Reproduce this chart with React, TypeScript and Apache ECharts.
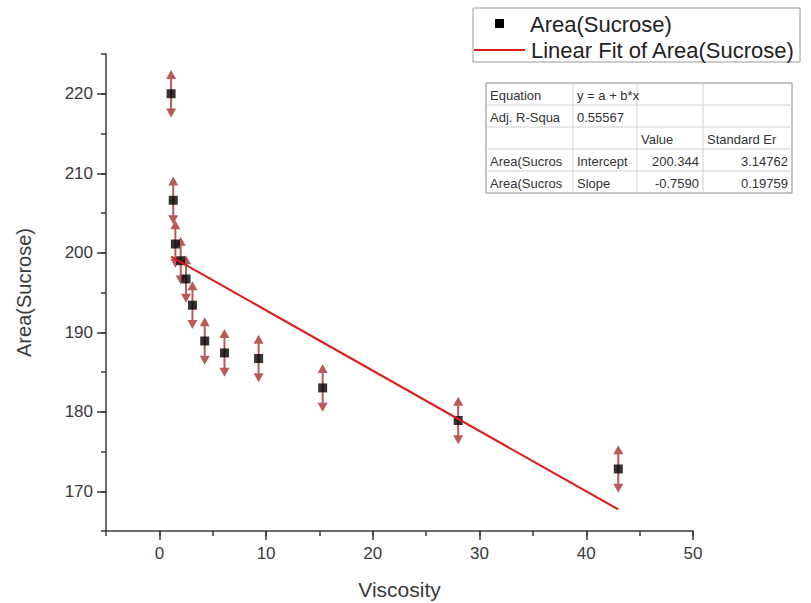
import React, { useEffect, useRef } from "react";
import * as echarts from "echarts";

const viscosity = [1.1, 1.3, 1.5, 2.0, 2.5, 3.1, 4.25, 6.1, 9.3, 15.3, 28.0, 43.0];
const area = [220.0, 206.6, 201.1, 199.0, 196.7, 193.4, 188.9, 187.4, 186.7, 183.0, 178.9, 172.8];
const areaErr = [3.0, 3.0, 3.0, 3.0, 3.0, 3.0, 3.0, 3.0, 3.0, 3.0, 3.0, 3.0];
const fitIntercept = 200.344;
const fitSlope = -0.759;
const yMajorTicks = [170, 180, 190, 200, 210, 220];
const xMajorTicks = [0, 10, 20, 30, 40, 50];
const tableRows = [
  ["Equation", "y = a + b*x", "", ""],
  ["Adj. R-Squa", "0.55567", "", ""],
  ["", "", "Value", "Standard Er"],
  ["Area(Sucros", "Intercept", "200.344", "3.14762"],
  ["Area(Sucros", "Slope", "-0.7590", "0.19759"],
];

const FONT = "'Liberation Sans', Arial, sans-serif";
const ERR_COLOR = "#b85a58";
const AXIS_COLOR = "#3a3a3a";

function buildTable() {
  const left = 486, top = 83;
  const colW = [87, 64, 66, 89];
  const rowH = 22;
  const children: any[] = [];
  const totalW = colW.reduce((a, b) => a + b, 0);
  const totalH = rowH * tableRows.length;
  children.push({ type: "rect", shape: { x: left, y: top, width: totalW, height: totalH }, style: { fill: "#fff", stroke: "#8a8a8a", lineWidth: 1 } });
  for (let r = 1; r < tableRows.length; r++) {
    children.push({ type: "line", shape: { x1: left, y1: top + r * rowH, x2: left + totalW, y2: top + r * rowH }, style: { stroke: "#d0d0d0", lineWidth: 1 } });
  }
  let cx = left;
  for (let c = 0; c < colW.length - 1; c++) {
    cx += colW[c];
    children.push({ type: "line", shape: { x1: cx, y1: top, x2: cx, y2: top + totalH }, style: { stroke: "#d0d0d0", lineWidth: 1 } });
  }
  tableRows.forEach((row, r) => {
    let x0 = left;
    row.forEach((txt, c) => {
      if (txt) {
        const rightAlign = r >= 3 && c >= 2;
        children.push({
          type: "text",
          x: rightAlign ? x0 + colW[c] - 4 : x0 + 4,
          y: top + r * rowH + rowH / 2 + 1,
          style: { text: txt, fill: "#333", font: `13px ${FONT}`, align: rightAlign ? "right" : "left", verticalAlign: "middle" },
        });
      }
      x0 += colW[c];
    });
  });
  return children;
}

export default function App() {
  const ref = useRef<HTMLDivElement>(null);
  useEffect(() => {
    if (!ref.current) return;
    const chart = echarts.init(ref.current, null, { renderer: "svg" });
    const xMin = Math.min(...viscosity), xMax = Math.max(...viscosity);
    const fitData = [[xMin, fitIntercept + fitSlope * xMin], [xMax, fitIntercept + fitSlope * xMax]];
    const pts = viscosity.map((v, i) => [v, area[i], areaErr[i]]);
    chart.setOption({
      animation: false,
      backgroundColor: "#fff",
      textStyle: { fontFamily: FONT },
      grid: { left: 106, right: 118, top: 54, bottom: 72, containLabel: false, outerBoundsMode: "none" },
      xAxis: [
        {
          type: "value", min: -5, max: 50, interval: 5,
          name: "Viscosity", nameLocation: "middle", nameGap: 48,
          nameTextStyle: { fontSize: 21, color: AXIS_COLOR, fontFamily: FONT },
          axisLine: { show: true, onZero: false, lineStyle: { color: AXIS_COLOR, width: 1.5 } },
          axisTick: { show: true, length: 9, customValues: xMajorTicks, lineStyle: { color: AXIS_COLOR, width: 1.5 } },
          axisLabel: { show: true, customValues: xMajorTicks, margin: 14, fontSize: 17, color: AXIS_COLOR, fontFamily: FONT },
          splitLine: { show: false },
        },
        {
          type: "value", min: -5, max: 50, interval: 5, position: "bottom",
          axisLine: { show: true, onZero: false, lineStyle: { color: AXIS_COLOR, width: 1.5, opacity: 0 } },
          axisTick: { show: true, length: 5, lineStyle: { color: AXIS_COLOR, width: 1.5 } },
          axisLabel: { show: false },
          splitLine: { show: false },
        },
      ],
      yAxis: [
        {
          type: "value", min: 165, max: 225, interval: 5,
          name: "Area(Sucrose)", nameLocation: "middle", nameGap: 72,
          nameTextStyle: { fontSize: 20, color: AXIS_COLOR, fontFamily: FONT },
          axisLine: { show: true, onZero: false, lineStyle: { color: AXIS_COLOR, width: 1.5 } },
          axisTick: { show: true, length: 9, customValues: yMajorTicks, lineStyle: { color: AXIS_COLOR, width: 1.5 } },
          axisLabel: { show: true, customValues: yMajorTicks, margin: 13, fontSize: 17, color: AXIS_COLOR, fontFamily: FONT },
          splitLine: { show: false },
        },
        {
          type: "value", min: 165, max: 225, interval: 5, position: "left",
          axisLine: { show: true, onZero: false, lineStyle: { color: AXIS_COLOR, width: 1.5, opacity: 0 } },
          axisTick: { show: true, length: 5, lineStyle: { color: AXIS_COLOR, width: 1.5 } },
          axisLabel: { show: false },
          splitLine: { show: false },
        },
      ],
      series: [
        {
          type: "custom",
          xAxisIndex: 0, yAxisIndex: 0,
          data: pts,
          encode: { x: 0, y: 1 },
          z: 2,
          renderItem: (params: any, api: any) => {
            const x = api.value(0), y = api.value(1), e = api.value(2);
            const t = api.coord([x, y + e]);
            const b = api.coord([x, y - e]);
            const hw = 5, hh = 9;
            return {
              type: "group",
              children: [
                { type: "line", shape: { x1: t[0], y1: t[1] + hh - 1, x2: b[0], y2: b[1] - hh + 1 }, style: { stroke: ERR_COLOR, lineWidth: 2 } },
                { type: "polygon", shape: { points: [[t[0], t[1]], [t[0] - hw, t[1] + hh], [t[0] + hw, t[1] + hh]] }, style: { fill: ERR_COLOR } },
                { type: "polygon", shape: { points: [[b[0], b[1]], [b[0] - hw, b[1] - hh], [b[0] + hw, b[1] - hh]] }, style: { fill: ERR_COLOR } },
              ],
            };
          },
        },
        {
          type: "scatter",
          name: "Area(Sucrose)",
          xAxisIndex: 0, yAxisIndex: 0,
          data: pts.map((p) => [p[0], p[1]]),
          symbol: "rect", symbolSize: 9,
          itemStyle: { color: "#000" },
          z: 3,
        },
        {
          type: "line",
          name: "Linear Fit of Area(Sucrose)",
          xAxisIndex: 0, yAxisIndex: 0,
          data: fitData,
          showSymbol: false, symbol: "none",
          lineStyle: { color: "#dd1c1c", width: 2 },
          z: 4,
        },
      ],
      graphic: [
        {
          type: "group",
          children: [
            { type: "rect", shape: { x: 473, y: 8, width: 327, height: 54 }, style: { fill: "#fff", stroke: "#9a9a9a", lineWidth: 1 } },
            { type: "rect", shape: { x: 495, y: 19, width: 9, height: 9 }, style: { fill: "#000" } },
            { type: "text", x: 530, y: 24, style: { text: "Area(Sucrose)", fill: "#222", font: `22px ${FONT}`, verticalAlign: "middle", align: "left" } },
            { type: "line", shape: { x1: 474, y1: 50, x2: 525, y2: 50 }, style: { stroke: "#dd1c1c", lineWidth: 2 } },
            { type: "text", x: 531, y: 50, style: { text: "Linear Fit of Area(Sucrose)", fill: "#222", font: `22px ${FONT}`, verticalAlign: "middle", align: "left" } },
          ],
        },
        { type: "group", children: buildTable() },
      ],
    });
    return () => chart.dispose();
  }, []);
  return <div ref={ref} style={{ width: 811, height: 603, position: "absolute", left: 0, top: 0 }} />;
}
